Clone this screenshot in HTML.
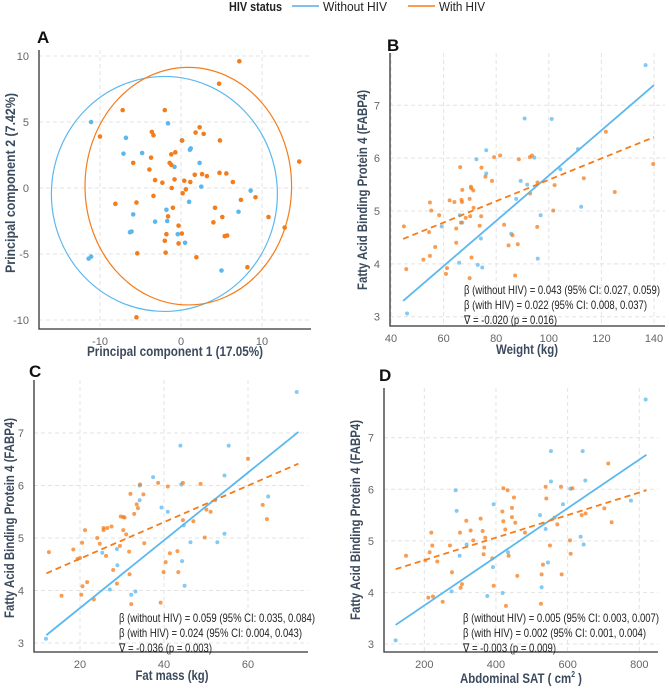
<!DOCTYPE html>
<html><head><meta charset="utf-8"><style>
body{margin:0;background:#fff;width:669px;height:688px;overflow:hidden;font-family:"Liberation Sans",sans-serif}
svg{display:block}
</style></head><body>
<svg id="chart" width="669" height="688" xmlns="http://www.w3.org/2000/svg">
<g>
<text x="229" y="11" font-size="13" font-weight="bold" fill="#222" textLength="53" lengthAdjust="spacingAndGlyphs">HIV status</text>
<line x1="292" y1="6" x2="319" y2="6" stroke="#5aa9e6" stroke-width="1.5"/>
<text x="323" y="11" font-size="13" fill="#222" textLength="64" lengthAdjust="spacingAndGlyphs">Without HIV</text>
<line x1="408" y1="6" x2="435" y2="6" stroke="#f57c1a" stroke-width="1.5"/>
<text x="439" y="11" font-size="13" fill="#222" textLength="46" lengthAdjust="spacingAndGlyphs">With HIV</text>
</g>
</svg>
<script>
// ---------- Panel A data ----------
const aBlueX=[-11.1,-1.6,-6.8,-7.1,-4.8,0.1,1.1,1.2,-0.8,2.3,2.5,8.6,1.0,7.1,-1.8,-1.7,-3.2,-5.9,-6.3,-6.1,-0.4,0.5,-11.4,-11.1,5.0];
const aBlueY=[5.0,4.9,3.8,2.6,2.65,3.6,2.9,3.0,1.6,1.9,0.1,-0.2,-1.05,-1.8,-1.65,-2.5,-2.55,-2.0,-3.35,-3.3,-3.5,-4.15,-5.35,-5.2,-6.25];
const aOrX=[7.2,4.7,-7.2,-2.0,-10,-3.6,-3.4,2.3,1.8,2.8,0.15,4.8,-3.7,-1.2,-0.7,-5.9,-1.4,-1.2,-3.9,-3.2,-2.3,-0.8,0.4,1.15,1.7,2.6,3.2,4.75,5.6,6.4,-1.15,0.6,0.2,-3.4,-5.5,-8.1,7.4,9.2,-1.0,4.2,-1.6,5.1,4.0,10.8,12.8,14.6,-0.3,0.1,-1.8,5.4,5.7,-2.0,-0.3,-1.9,-5.4,1.9,8.2,-5.5];
const aOrY=[9.6,7.9,5.9,5.9,3.9,4.25,4.0,4.6,4.2,4.1,3.6,3.6,2.3,2.55,2.7,1.9,1.9,1.75,1.4,0.6,0.4,0.65,0.55,0.45,1.0,1.05,0.9,1.15,1.1,0.45,0,-0.1,-0.4,-0.6,-1.1,-1.2,-0.9,-0.7,-1.5,-1.5,-2.15,-2.2,-2.6,-2.2,-3.0,2.0,-2.85,-3.45,-3.5,-3.65,-3.6,-4.0,-4.2,-4.9,-4.95,-5.25,-6.0,-9.8];
const aEllipseCx=[-2.05,0.9], aEllipseCy=[-0.45,0.14], aEllipseRx=[13.95,12.75], aEllipseRy=[8.9,9.0];
const aXTicks=[-10,0,10], aYTicks=[-10,-5,0,5,10];
// ---------- Panel B data ----------
const bBlueX=[136.8,90.8,101.1,111.1,76.2,72.5,94.5,76.2,104.4,89.3,91.8,87.6,112.3,96.9,66.2,67.1,59.3,85.7,74.2,65.9,73.0,74.7,95.8,46.1];
const bBlueY=[7.76,6.75,6.74,6.17,6.15,5.98,6.01,5.71,5.79,5.57,5.50,5.23,5.08,4.92,4.92,4.78,4.71,4.57,4.48,4.02,3.98,3.93,4.10,3.06];
const bOrX=[44.9,45.8,54.8,55.3,54.5,54.8,52.3,56.8,58.3,62.3,64.1,64.8,64.8,61.3,60.9,66.3,66.8,67,66.6,67.1,68.4,69.9,70.4,70.5,71.3,71.4,70.1,70.6,69.9,74.4,74.3,73.7,75.9,78.4,79.2,81.5,83.0,84.7,86.2,87.2,88.2,88.6,92.8,93.6,92.9,95.7,95.6,101.7,102.2,113.3,121.7,125.1,139.7];
const bOrY=[4.71,3.90,5.16,5.01,4.60,4.15,4.08,4.32,4.92,5.20,5.17,4.67,4.40,3.92,3.81,5.83,5.21,5.17,4.78,5.40,4.87,5.23,5.46,5.43,5.39,5.06,4.90,4.12,3.73,5.82,4.90,4.72,5.65,5.57,6.02,6.05,4.74,4.35,4.54,3.78,4.37,5.98,6.02,6.05,5.33,5.54,4.70,5.01,5.49,5.62,6.50,5.36,5.89];
const bSlope=[0.0428,0.0202], bIntercept=[1.39,3.57], bRange=[44.6,140];
const bXTicks=[40,60,80,100,120,140], bYTicks=[3,4,5,6,7];
const bNotes=["β (without HIV) = 0.043 (95% CI: 0.027, 0.059)","β (with HIV) = 0.022 (95% CI: 0.008, 0.037)","∇ = -0.020 (p = 0.016)"];
// ---------- Panel C data ----------
const cBlueX=[71.6,43.9,55.4,37.4,54.4,34.2,44.1,34.2,39.4,40.9,52.2,64.8,44.7,54.4,46.3,52.7,25.3,28.8,44.3,28.9,27.1,33.2,32.2,44.9,11.9];
const cBlueY=[7.78,6.76,6.76,6.16,6.19,6.0,6.02,5.72,5.58,5.5,5.72,5.79,5.24,5.08,4.92,4.92,4.72,4.79,4.56,4.48,4.02,3.98,3.92,4.09,3.08];
const cOrX=[12.6,15.6,18.4,19.4,20,20.5,21.2,20.6,20.3,21.7,23.3,24.1,24.7,25.6,25.6,26.5,26.2,27.5,27.9,28.8,29.5,29.7,30.3,30.6,30.3,31.0,32.0,31.7,31.8,32.2,32.9,33.5,33.8,34.3,35.1,35.3,38.6,39.2,39.9,40.4,40.9,41.4,43.2,43.4,44.5,44.5,47.0,48.7,49.7,50.1,51.1,60.0,63.5,64.5];
const cOrY=[4.73,3.90,4.78,4.6,4.62,4.91,5.15,4.08,3.92,4.16,3.83,5.00,4.89,5.19,5.15,5.19,4.66,5.22,4.39,4.13,4.85,5.41,5.4,5.39,5.15,5.07,5.84,4.74,4.31,3.74,5.46,5.64,5.57,6.02,5.83,4.90,6.05,3.77,4.35,4.54,5.98,4.71,4.75,4.35,5.34,6.05,5.32,6.03,5.01,5.54,5.50,6.51,5.63,5.36];
const cSlope=[0.0645,0.0348], cIntercept=[2.376,3.91], cRange=[12,72];
const cXTicks=[20,40,60], cYTicks=[3,4,5,6,7];
const cNotes=["β (without HIV) = 0.059 (95% CI: 0.035, 0.084)","β (with HIV) = 0.024 (95% CI: 0.004, 0.043)","∇ = -0.036 (p = 0.003)"];
// ---------- Panel D data ----------
const dBlueX=[817.7,553.5,641.9,649.3,553.5,287.4,607.6,393.5,587,290.2,522.8,776.7,538.6,636.3,644.7,318.1,298.6,433.5,545.1,391.6,276.3,375.8,418.6,527.4,120];
const dBlueY=[7.74,6.74,6.74,6.17,6.15,5.98,6.01,5.71,5.71,5.58,5.50,5.78,5.23,5.08,4.93,4.93,4.71,4.78,4.58,4.49,4.02,3.93,3.99,4.10,3.07];
const dOrX=[149,202.8,214.9,219.5,222.3,236.3,211.2,224.2,251.2,271.6,277.2,299.5,301.4,305.1,317.2,329.3,336.7,357.2,362.8,370.2,367.4,365.6,389.8,393.5,417.7,420.5,420.5,432.6,426,427.9,435.3,444.7,444.7,450.2,453.9,459.5,480.9,525.6,527.4,531.2,538.6,540.5,550.7,563.7,571.2,581.4,583.3,606.5,608.4,613.1,639.1,650.2,702.3,713.5,722.8];
const dOrY=[4.71,4.62,4.78,5.16,4.91,4.60,3.9,3.92,3.82,4.91,4.39,5.16,4.09,4.16,5.39,5.20,5.01,5.43,5.19,5.06,4.87,4.74,4.66,4.13,5.57,5.38,6.02,5.98,5.22,3.74,4.71,5.64,5.46,5.84,5.35,4.32,5.16,3.78,4.35,4.54,6.05,5.82,4.91,5.45,5.32,6.05,4.35,5.01,4.75,6.02,5.50,5.53,5.63,6.50,5.36];
const dSlope=[0.004714,0.002186], dIntercept=[2.804,4.188], dRange=[120,820];
const dXTicks=[200,400,600,800], dYTicks=[3,4,5,6,7];
const dNotes=["β (without HIV) = 0.005 (95% CI: 0.003, 0.007)","β (with HIV) = 0.002 (95% CI: 0.001, 0.004)","∇ = -0.003 (p = 0.009)"];

const NS="http://www.w3.org/2000/svg";
const svg=document.getElementById('chart');
const BLUE="#5bb8ee", ORANGE="#f57c1a";
const NOTE_W=[196,183,93];
function mk(tag,attrs,parent){const e=document.createElementNS(NS,tag);for(const k in attrs)e.setAttribute(k,attrs[k]);(parent||svg).appendChild(e);return e;}
function scale(d0,d1,p0,p1){return v=>p0+(v-d0)*(p1-p0)/(d1-d0);}

function panel(cfg){
  const g=mk('g',{});
  
  
  const sx=cfg.sx, sy=cfg.sy;
  cfg.xt.forEach(t=>{const l=mk('line',{x1:sx(t),x2:sx(t),y1:cfg.top,y2:cfg.bottom,stroke:'#e3e3e3','stroke-dasharray':'4,3'},g);
    
    });
  cfg.yt.forEach(t=>{const l=mk('line',{x1:cfg.left,x2:cfg.right,y1:sy(t),y2:sy(t),stroke:'#e3e3e3','stroke-dasharray':'4,3'},g);
    
    });
  const ax=mk('path',{d:`M${cfg.left},${cfg.top}V${cfg.bottom}H${cfg.right}`,fill:'none',stroke:'#333','stroke-width':1.3},g);
  
  
  cfg.xt.forEach(t=>{const tx=mk('text',{x:sx(t),y:cfg.bottom+16,'font-size':11,fill:'#666','text-anchor':'middle'},g);tx.textContent=t;
    
    });
  cfg.yt.forEach(t=>{const tx=mk('text',{x:cfg.left-10,y:sy(t)+4,'font-size':11,fill:'#666','text-anchor':'end'},g);tx.textContent=t;
    
    });
  if(cfg.extra)cfg.extra(g);
  const pts=(xs,ys,col,nm)=>xs.forEach((x,i)=>{const c=mk('circle',{cx:sx(x),cy:sy(ys[i]),r:cfg.r,fill:col,'fill-opacity':cfg.op},g);
    
    });
  pts(cfg.bx,cfg.by,BLUE,'point-without-hiv');
  pts(cfg.ox,cfg.oy,ORANGE,'point-with-hiv');
  if(cfg.lines)cfg.lines(g);
  const lab=mk('text',{x:cfg.labX,y:cfg.labY,'font-size':17,'font-weight':'bold',fill:'#111'},g);lab.textContent=cfg.label;
  
  
  const xt=mk('text',{x:cfg.xtX,y:cfg.xtY,'font-size':13.5,'font-weight':'bold',fill:'#3c4a5e','text-anchor':'middle',textLength:cfg.xtLen,lengthAdjust:'spacingAndGlyphs'},g);xt.innerHTML=cfg.xtitle;
  
  
  const yt=mk('text',{x:0,y:0,'font-size':13.5,'font-weight':'bold',fill:'#3c4a5e','text-anchor':'middle',textLength:cfg.ytLen,lengthAdjust:'spacingAndGlyphs',transform:`translate(${cfg.ytX},${cfg.ytY}) rotate(-90)`},g);yt.textContent=cfg.ytitle;
  
  
  if(cfg.notes)cfg.notes.forEach((n,i)=>{const t=mk('text',{x:cfg.nx,y:cfg.ny+i*15,'font-size':12,fill:'#222',textLength:NOTE_W[i],lengthAdjust:'spacingAndGlyphs'},g);t.textContent=n;
    
    });
}
function regLines(sx,sy,slope,icpt,range){return g=>{
  [0,1].forEach(k=>{const y0=icpt[k]+slope[k]*range[0], y1=icpt[k]+slope[k]*range[1];
    const l=mk('line',{x1:sx(range[0]),y1:sy(y0),x2:sx(range[1]),y2:sy(y1),stroke:k?ORANGE:BLUE,'stroke-width':1.8,'stroke-dasharray':k?'6,4':'none'},g);
    
    });
};}

{const sx=scale(0,10,181,262), sy=scale(0,5,188,122);
panel({name:'panel-a-pca',sx,sy,left:39,right:311,top:50,bottom:329,xt:aXTicks,yt:aYTicks,bx:aBlueX,by:aBlueY,ox:aOrX,oy:aOrY,r:2.3,op:1,
 extra:g=>{[0,1].forEach(k=>{const e=mk('ellipse',{cx:sx(aEllipseCx[k]),cy:sy(aEllipseCy[k]),rx:Math.abs(sx(aEllipseRx[k])-sx(0)),ry:Math.abs(sy(aEllipseRy[k])-sy(0)),fill:'none',stroke:k?ORANGE:BLUE,'stroke-width':1.2},g);
   
   });},
 label:'A',labX:37,labY:43,xtitle:'Principal component 1 (17.05%)',xtX:175,xtY:356,xtLen:176,ytitle:'Principal component 2 (7.42%)',ytX:15,ytY:183,ytLen:180});}
{const sx=scale(40,140,391,654), sy=scale(3,7,316.7,105.3);
panel({name:'panel-b-weight',sx,sy,left:390,right:665,top:53,bottom:326,xt:bXTicks,yt:bYTicks,bx:bBlueX,by:bBlueY,ox:bOrX,oy:bOrY,r:2,op:0.75,
 lines:regLines(sx,sy,bSlope,bIntercept,bRange),
 label:'B',labX:387,labY:51,xtitle:'Weight (kg)',xtX:527,xtY:354,xtLen:62,ytitle:'Fatty Acid Binding Protein 4 (FABP4)',ytX:367,ytY:190,ytLen:200,notes:bNotes,nx:464,ny:294});}
{const sx=scale(20,60,80,248), sy=scale(3,7,643,433);
panel({name:'panel-c-fat-mass',sx,sy,left:34,right:308,top:380,bottom:652,xt:cXTicks,yt:cYTicks,bx:cBlueX,by:cBlueY,ox:cOrX,oy:cOrY,r:2,op:0.75,
 lines:regLines(sx,sy,cSlope,cIntercept,cRange),
 label:'C',labX:29,labY:377,xtitle:'Fat mass (kg)',xtX:172,xtY:680,xtLen:73,ytitle:'Fatty Acid Binding Protein 4 (FABP4)',ytX:14,ytY:518,ytLen:200,notes:cNotes,nx:119,ny:622});}
{const sx=scale(200,800,424.3,639.3), sy=scale(3,7,644,437.7);
panel({name:'panel-d-abdominal-sat',sx,sy,left:384,right:658,top:388,bottom:652,xt:dXTicks,yt:dYTicks,bx:dBlueX,by:dBlueY,ox:dOrX,oy:dOrY,r:2,op:0.75,
 lines:regLines(sx,sy,dSlope,dIntercept,dRange),
 label:'D',labX:379,labY:381,xtitle:'Abdominal SAT ( cm<tspan font-size="8" dy="-6">2</tspan><tspan dy="6"> )</tspan>',xtX:521,xtY:683,xtLen:122,ytitle:'Fatty Acid Binding Protein 4 (FABP4)',ytX:360,ytY:520,ytLen:200,notes:dNotes,nx:463,ny:622});}
</script>
</body></html>
